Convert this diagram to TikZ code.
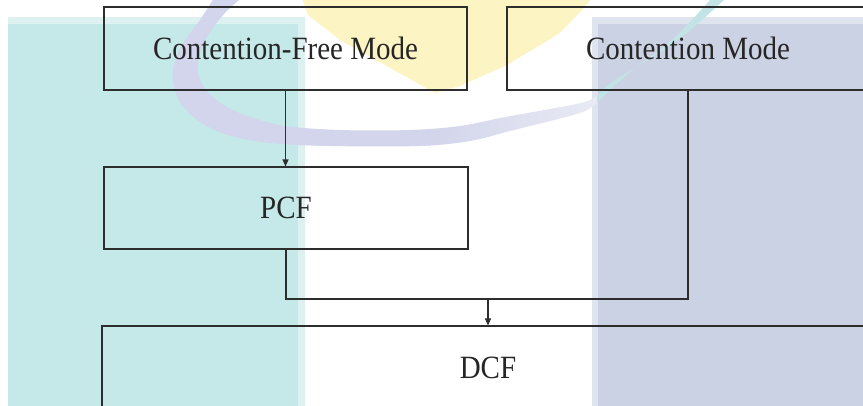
\documentclass[tikz,border=0pt]{standalone}
\usepackage{fontspec}
\usepackage{graphicx}
\setmainfont{Liberation Serif}
\usetikzlibrary{arrows.meta}

\definecolor{tealbg}{RGB}{197,233,232}
\definecolor{tealedge}{RGB}{220,241,240}
\definecolor{bluebg}{RGB}{203,210,228}
\definecolor{blueedge}{RGB}{224,228,239}
\definecolor{sunbg}{RGB}{253,244,196}
\definecolor{swoosh}{RGB}{210,213,235}
\definecolor{swooshfaint}{RGB}{232,234,244}
\definecolor{swooshteal}{RGB}{194,228,231}
\definecolor{linegray}{RGB}{45,45,45}

\newcommand{\tall}[1]{\scalebox{1}[1.12]{#1}}

\begin{document}
\begin{tikzpicture}[x=1pt,y=-1pt,
  box/.style={draw=linegray, line width=1.1pt, inner sep=0pt,
    font=\fontsize{29}{34}\selectfont, text=black!85},
  link/.style={draw=linegray, line width=1.1pt},
  tip/.style={-{Triangle[length=7pt,width=6pt]}}]
\useasboundingbox (0,0) rectangle (863,405);
\clip (0,0) rectangle (863,405);
\fill[white] (0,0) rectangle (863,405);

% background panels
\fill[tealedge] (8,17) rectangle (305,410);
\fill[tealbg] (8,24) rectangle (298,410);
\fill[blueedge] (592,17) rectangle (870,410);
\fill[bluebg] (598,24) rectangle (870,410);

% yellow wedge
\fill[sunbg] (302,-2) -- (308,15) -- (340,40) -- (385,65) -- (435,93)
  -- (460,86) -- (507,65) -- (560,33) -- (582,10) -- (592,-2) -- cycle;

% swoosh
\def\swooshpath{plot[smooth,tension=0.55] coordinates {
    (214,-2) (200,20) (182,45) (173,70) (175,90) (182,105) (200,122)
    (228,135) (270,143) (330,146) (420,146) (470,141) (510,131)
    (550,121) (585,111) (602,98) (630,72) (672,40) (712,-2)}
  -- plot[smooth,tension=0.55] coordinates {
    (726,-2) (688,32) (648,60) (612,82) (590,100) (550,109) (505,117)
    (460,126) (410,130) (340,130) (285,126) (250,117) (225,106)
    (206,90) (198,72) (200,52) (210,32) (224,14) (241,-2)} -- cycle}
\begin{scope}
  \clip (-10,-10) rectangle (430,410);
  \fill[swoosh] \swooshpath;
\end{scope}
\begin{scope}
  \clip (430,-10) rectangle (597,410);
  \clip \swooshpath;
  \shade[left color=swoosh, right color=swooshfaint] (430,0) rectangle (597,200);
\end{scope}
\begin{scope}
  \clip (597,-10) rectangle (870,410);
  \fill[swooshteal] \swooshpath;
\end{scope}

% boxes
\node[box, minimum width=363pt, minimum height=83pt] (cf) at (285.5,48.5) {\tall{Contention-Free Mode}};
\node[box, minimum width=362pt, minimum height=83pt] (cm) at (688,48.5) {\tall{Contention Mode}};
\node[box, minimum width=364pt, minimum height=82pt] (pcf) at (286,208) {\tall{PCF}};
\node[box, minimum width=772pt, minimum height=84pt] (dcf) at (488,368) {\tall{DCF}};

% connectors
\coordinate (join) at (488,299);
\draw[link,tip] (cf.south) -- (cf.south |- pcf.north);
\draw[link] (pcf.south) |- (cm.south |- join) -- (cm.south);
\draw[link,tip] (join) -- (join |- dcf.north);
\end{tikzpicture}
\end{document}
